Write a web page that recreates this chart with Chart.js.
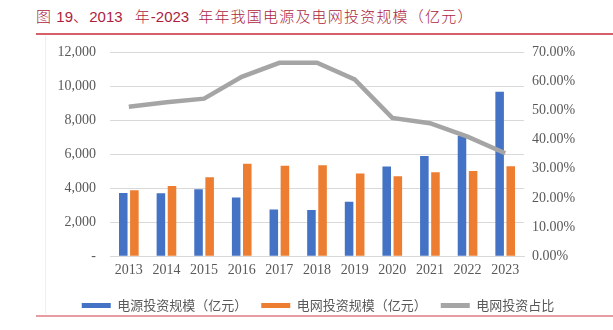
<!DOCTYPE html>
<html>
<head>
<meta charset="utf-8">
<script src="https://cdn.jsdelivr.net/npm/chart.js@4.4.0/dist/chart.umd.min.js"></script>
<style>
  html, body { margin: 0; padding: 0; background: #fff; }
  #wrap { position: relative; width: 613px; height: 330px; overflow: hidden; }
  #title {
    position: absolute; left: 36px; top: 5px;
    font: 300 15px "Noto Sans CJK SC", sans-serif; color: #ad1d3e;
    white-space: nowrap; line-height: 22px; letter-spacing: 1.2px;
  }
  #title .lat { font: 15px "Liberation Sans", Arial, sans-serif; letter-spacing: 0; }
  #title .gap { display: inline-block; }
  .rule { position: absolute; left: 36px; right: 0; height: 2px; }
  #ruleTop { top: 33px; background: #d6606a; }
  #ruleBottom { top: 315px; background: #e69da2; }
  #frame { position: absolute; left: 45px; top: 36px; width: 1px; height: 278px; background: #f0f0f0; }
  #chartBox { position: absolute; left: 0; top: 0; width: 613px; height: 330px; }
</style>
</head>
<body>
<div id="wrap">
  <div id="title">图<span class="lat"> 19</span>、<span class="lat">2013</span><span class="gap" style="width:12px"></span>年<span class="lat">-2023</span><span class="gap" style="width:9px"></span>年年我国电源及电网投资规模（亿元）</div>
  <div class="rule" id="ruleTop"></div>
  <div id="frame"></div>
  <div id="chartBox"><canvas id="investChart" width="613" height="330"></canvas></div>
  <div class="rule" id="ruleBottom"></div>
</div>
<script>
// 年份
const years = ['2013', '2014', '2015', '2016', '2017', '2018', '2019', '2020', '2021', '2022', '2023'];
// 电源投资规模（亿元）
const powerInvest = [3720, 3700, 3940, 3450, 2740, 2720, 3200, 5270, 5890, 7080, 9670];
// 电网投资规模（亿元）
const gridInvest = [3880, 4120, 4640, 5430, 5320, 5340, 4860, 4700, 4930, 5010, 5280];
// 电网投资占比（%）
const gridShare = [51.2, 52.8, 54.0, 61.5, 66.3, 66.3, 60.6, 47.4, 45.6, 41.0, 35.3];

const labelFont = { family: '"Liberation Serif", "Times New Roman", serif', size: 14 };
const labelColor = '#595959';

const ctx = document.getElementById('investChart').getContext('2d');
new Chart(ctx, {
    data: {
        labels: years,
        datasets: [{
            type: 'line',
            label: '电网投资占比',
            data: gridShare,
            yAxisID: 'yPct',
            borderColor: '#a5a5a5',
            backgroundColor: '#a5a5a5',
            borderWidth: 4.5,
            pointRadius: 0,
            tension: 0,
            order: 0
        }, {
            type: 'bar',
            label: '电源投资规模（亿元）',
            data: powerInvest,
            yAxisID: 'y',
            backgroundColor: '#4472c4',
            categoryPercentage: 0.59,
            barPercentage: 0.77,
            order: 1
        }, {
            type: 'bar',
            label: '电网投资规模（亿元）',
            data: gridInvest,
            yAxisID: 'y',
            backgroundColor: '#ed7d31',
            categoryPercentage: 0.59,
            barPercentage: 0.77,
            order: 2
        }]
    },
    options: {
        responsive: false,
        animation: false,
        layout: { padding: { left: 50, right: 27, top: 52, bottom: 8 } },
        plugins: {
            tooltip: { enabled: false },
            legend: {
                position: 'bottom',
                labels: {
                    boxWidth: 29,
                    boxHeight: 5,
                    padding: 14,
                    color: labelColor,
                    font: { family: '"Noto Sans CJK SC", sans-serif', size: 13 },
                    // 按柱、柱、线的顺序排列图例，去掉描边
                    generateLabels(chart) {
                        const items = Chart.defaults.plugins.legend.labels.generateLabels(chart);
                        items.forEach(it => { it.lineWidth = 0; });
                        return [items[1], items[2], items[0]];
                    }
                }
            }
        },
        scales: {
            x: {
                grid: { display: false, drawTicks: false },
                border: { display: true, color: '#d9d9d9', width: 1 },
                ticks: { color: labelColor, font: labelFont, padding: 6, maxRotation: 0 }
            },
            y: {
                position: 'left',
                min: 0,
                max: 12000,
                afterFit(scale) { scale.width = 60; },
                grid: { color: '#d9d9d9', lineWidth: 1, drawTicks: false },
                border: { display: false },
                ticks: {
                    stepSize: 2000,
                    color: labelColor,
                    font: labelFont,
                    padding: 14,
                    callback: v => v === 0 ? '-' : v.toLocaleString('en-US')
                }
            },
            yPct: {
                position: 'right',
                min: 0,
                max: 70,
                afterFit(scale) { scale.width = 62; },
                grid: { display: false, drawTicks: false },
                border: { display: false },
                ticks: {
                    stepSize: 10,
                    color: labelColor,
                    font: labelFont,
                    padding: 8,
                    callback: v => v.toFixed(2) + '%'
                }
            }
        }
    }
});
</script>
</body>
</html>
